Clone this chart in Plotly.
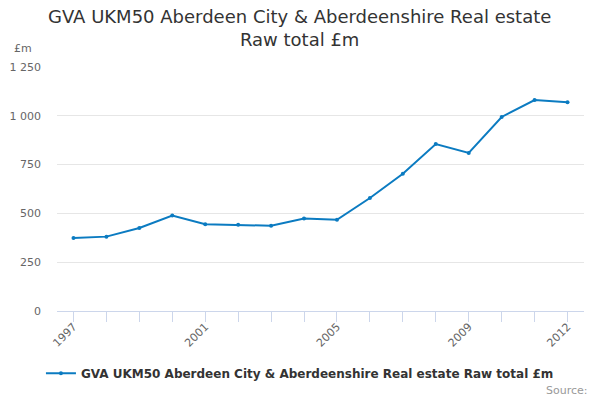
import plotly.graph_objects as go

# data
years = list(range(1997, 2013))
gva_total = [374, 381, 425, 489, 444, 442, 437, 474, 467, 579, 703, 855, 810, 994, 1081, 1070]

year_labels = ["1997", "", "", "", "2001", "", "", "", "2005", "", "", "", "2009", "", "", "2012"]
y_ticks = [0, 250, 500, 750, 1000, 1250]
y_labels = ["0", "250", "500", "750", "1 000", "1 250"]

series_name = "GVA UKM50 Aberdeen City & Aberdeenshire Real estate Raw total £m"
title_text = "GVA UKM50 Aberdeen City & Aberdeenshire Real estate<br>Raw total £m"
line_color = "#0b7bc1"
font = "DejaVu Sans, Verdana, sans-serif"

fig = go.Figure()
fig.add_trace(go.Scatter(
    x=years, y=gva_total, name=series_name,
    mode="lines+markers",
    line=dict(color=line_color, width=2),
    marker=dict(color=line_color, size=4),
))

fig.update_layout(
    width=600, height=400,
    margin=dict(l=57, r=16, t=67, b=89, autoexpand=False),
    plot_bgcolor="white", paper_bgcolor="white",
    font=dict(family=font, color="#666666", size=11),
    showlegend=True,
    legend=dict(
        orientation="h", x=0.461, xanchor="center", y=-0.255, yanchor="middle",
        bgcolor="rgba(0,0,0,0)",
        font=dict(size=12, color="#333333", family=font, weight="bold"),
    ),
)

fig.update_xaxes(
    range=[1996.5, 2012.5],
    tickvals=years, ticktext=year_labels, tickangle=-45,
    ticks="outside", ticklen=10, tickcolor="#ccd6eb",
    showline=True, linecolor="#ccd6eb", linewidth=1,
    showgrid=False, zeroline=False, ticklabelstandoff=-6,
    tickfont=dict(size=11, color="#666666"),
)
fig.update_yaxes(
    range=[0, 1250],
    tickvals=y_ticks, ticktext=y_labels,
    showgrid=True, gridcolor="#e6e6e6", zeroline=False,
    showline=False, ticks="", ticklabelstandoff=15,
    tickfont=dict(size=11, color="#666666"),
)

fig.add_annotation(
    text=title_text, xref="paper", yref="paper", x=0.461, y=1.16,
    xanchor="center", yanchor="middle", showarrow=False,
    font=dict(size=18, color="#333333", family=font),
)
fig.add_annotation(
    text="£m", xref="paper", yref="paper", x=-0.0854, y=1.04,
    xanchor="left", yanchor="bottom", showarrow=False,
    font=dict(size=11, color="#666666"),
)
fig.add_annotation(
    text="Source:", xref="paper", yref="paper", x=1.0115, y=-0.324,
    xanchor="right", yanchor="middle", showarrow=False,
    font=dict(size=11, color="#999999"),
)

# drop the page's default body margin so the figure fills the 600x400 window
fig.write_html("out.html", config={"displayModeBar": False},
               post_script="document.body.style.margin='0';")
